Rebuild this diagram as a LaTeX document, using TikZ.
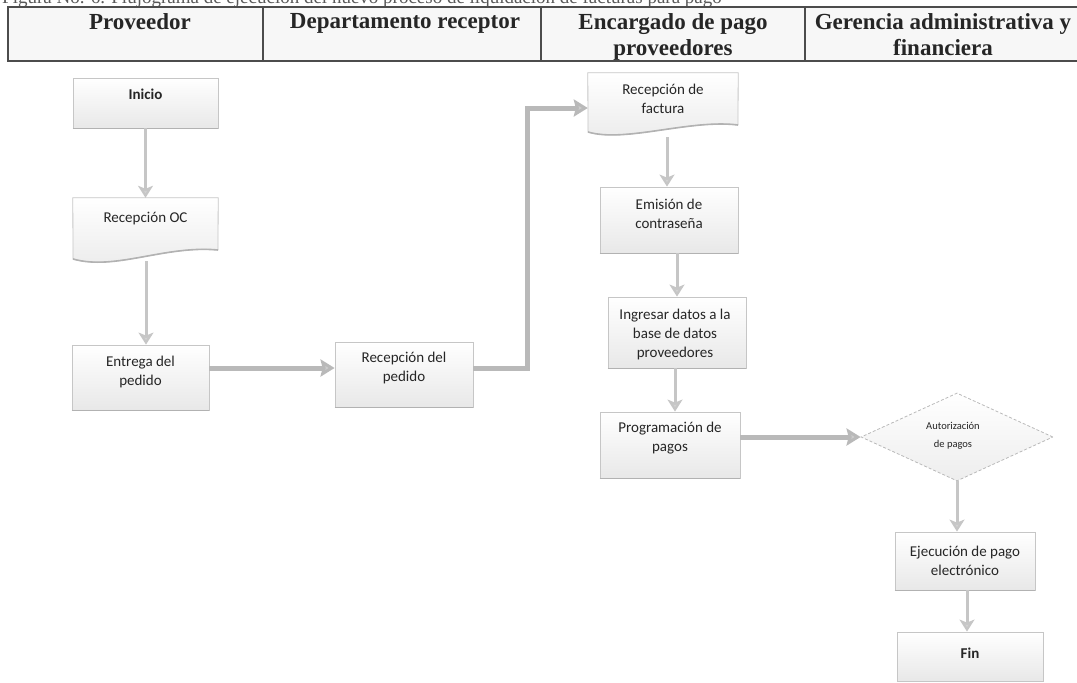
\documentclass[tikz,border=0pt]{standalone}
\usepackage{fontspec}
\setmainfont{Liberation Serif}
\newfontfamily\boxfont{Carlito}
\usetikzlibrary{arrows.meta,shapes.geometric,calc}
\begin{document}
\begin{tikzpicture}[x=1pt,y=-1pt,
  box/.style={draw=gray!45, line width=0.8pt, top color=white, bottom color=gray!18, inner sep=0pt},
  docbox/.style={draw=gray!45, line width=0.8pt, top color=white, bottom color=gray!16},
  shadowline/.style={draw=gray!60, line width=1.6pt},
  txt/.style={font=\boxfont\fontsize{15}{19}\selectfont, align=center, inner sep=0pt, text=black!85},
  btxt/.style={font=\boxfont\bfseries\fontsize{15}{19}\selectfont, align=center, inner sep=0pt, text=black!85},
  smalltxt/.style={font=\boxfont\fontsize{10.5}{18}\selectfont, align=center, inner sep=0pt, text=black!85},
  flow/.style={draw=gray!45, line width=3pt, -{Stealth[width=15pt,length=12pt,inset=3pt,fill=gray!35]}},
  flowh/.style={draw=gray!55, line width=5pt, -{Stealth[width=17pt,length=14pt,inset=2pt,fill=gray!40]}},
  hline/.style={draw=black!70, line width=1.5pt},
  head/.style={font=\bfseries\fontsize{23}{26}\selectfont, align=center, anchor=north, inner sep=0pt, text=black!85},
  capt/.style={font=\fontsize{19}{22}\selectfont, anchor=base west, inner sep=0pt, text=gray!70!black},
  anchorbox/.style={inner sep=0pt}
]
\useasboundingbox (0,0) rectangle (1077,683);

% caption (cut off at top, as in the scan)
\begin{scope}
\clip (0,0) rectangle (1077,7);
\node[capt] (caption) at (2,3) {Figura No. 6. Flujograma de ejecución del nuevo proceso de liquidación de facturas para pago};
\end{scope}

% header table
\fill[gray!6] (8,7) rectangle (1095,61);
\draw[hline] (1095,7) -- (8,7) -- (8,61) -- (1095,61);
\draw[hline] (263,7) -- (263,61);
\draw[hline] (541,7) -- (541,61);
\draw[hline] (805,7) -- (805,61);
\node[head] (h1) at (140,13) {Proveedor};
\node[head] (h2) at (405,13) {Departamento receptor};
\node[head] (h3) at (673,13) {Encargado de pago\\proveedores};
\node[head] (h4) at (943,13) {Gerencia administrativa y\\financiera};

% Inicio
\node[box, minimum width=145pt, minimum height=50pt] (inicio) at (145.5,103) {};
\draw[shadowline] (inicio.south west) -- (inicio.south east);
\node[btxt] (tinicio) at (145.5,94) {Inicio};

% Recepcion OC (document)
\node[anchorbox, minimum width=145pt, minimum height=62pt] (oc) at (145.5,229) {};
\path[docbox] (oc.north west) -- (oc.north east) -- (218,250) .. controls (165,245) and (115,271) .. (73,259) -- cycle;
\draw[shadowline] (218,250) .. controls (165,245) and (115,271) .. (73,259);
\node[txt] (toc) at (145.5,219) {Recepción OC};
\coordinate (ocb) at (146,261);

% Entrega del pedido
\node[box, minimum width=137pt, minimum height=65pt] (entrega) at (140.5,377.5) {};
\draw[shadowline] (entrega.south west) -- (entrega.south east);
\node[txt] (tentrega) at (140.5,372) {Entrega del\\pedido};

% Recepcion del pedido
\node[box, minimum width=138pt, minimum height=65pt] (recped) at (404,374.5) {};
\draw[shadowline] (recped.south west) -- (recped.south east);
\node[txt] (trecped) at (404,367.5) {Recepción del\\pedido};

% Recepcion de factura (document)
\node[anchorbox, minimum width=150pt, minimum height=59pt] (factura) at (663,102.5) {};
\path[docbox] (factura.north west) -- (factura.north east) -- (738,125) .. controls (690,119) and (625,143) .. (588,132) -- cycle;
\draw[shadowline] (738,125) .. controls (690,119) and (625,143) .. (588,132);
\node[txt] (tfactura) at (663,99) {Recepción de\\factura};
\coordinate (fb) at (667,137);

% Emision de contrasena
\node[box, minimum width=138pt, minimum height=66pt] (emision) at (669,220) {};
\draw[shadowline] (emision.south west) -- (emision.south east);
\node[txt] (temision) at (669,213.5) {Emisión de\\contraseña};

% Ingresar datos
\node[box, minimum width=138pt, minimum height=71pt] (ingresar) at (677,332.5) {};
\draw[shadowline] (ingresar.south west) -- (ingresar.south east);
\node[txt] (tingresar) at (675,334) {Ingresar datos a la\\base de datos\\proveedores};

% Programacion de pagos
\node[box, minimum width=140pt, minimum height=66pt] (prog) at (670,445) {};
\draw[shadowline] (prog.south west) -- (prog.south east);
\node[txt] (tprog) at (670,438.5) {Programación de\\pagos};

% Autorizacion de pagos (decision)
\node[diamond, draw=gray!55, line width=0.8pt, dash pattern=on 3pt off 2pt, top color=white, bottom color=gray!14, minimum width=192pt, minimum height=88pt, inner sep=0pt] (aut) at (957,437) {};
\node[smalltxt] (taut) at (953,436) {Autorización\\de pagos};

% Ejecucion de pago electronico
\node[box, minimum width=140pt, minimum height=58pt] (ejec) at (965,561) {};
\draw[shadowline] (ejec.south west) -- (ejec.south east);
\node[txt] (tejec) at (965,560.5) {Ejecución de pago\\electrónico};

% Fin
\node[box, minimum width=146pt, minimum height=49pt] (fin) at (970,656.5) {};
\node[btxt] (tfin) at (970,653) {Fin};

% connectors
\coordinate (hy) at (0,368);
\coordinate (turn) at (527,108);
\draw[flow] (inicio.south) -- (oc.north);
\draw[flow] (ocb) -- (ocb |- entrega.north);
\draw[flowh] (entrega.east |- hy) -- (recped.west |- hy);
\draw[flowh] (recped.east |- hy) -| (turn) -- (factura.west |- turn);
\draw[flow] (fb) -- (fb |- emision.north);
\draw[flow] ([xshift=8pt]emision.south) -- ([xshift=8pt]emision.south |- ingresar.north);
\draw[flow] ([xshift=-2pt]ingresar.south) -- ([xshift=-2pt]ingresar.south |- prog.north);
\draw[flowh] (prog.east |- aut.west) -- (aut.west);
\draw[flow] (aut.south) -- (aut.south |- ejec.north);
\draw[flow] ([xshift=2pt]ejec.south) -- ([xshift=2pt]ejec.south |- fin.north);
\end{tikzpicture}
\end{document}
